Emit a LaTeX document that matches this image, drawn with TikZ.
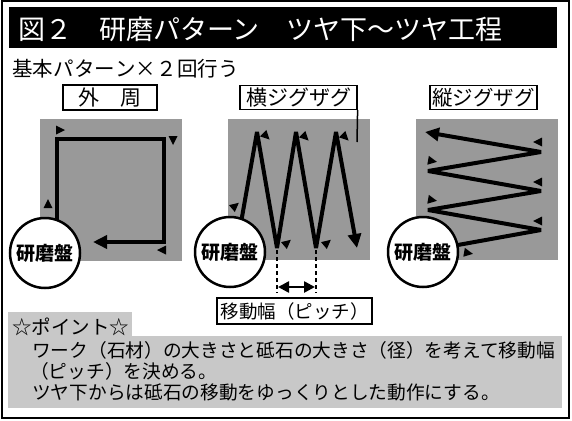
\documentclass[tikz,border=0pt]{standalone}
\usepackage{fontspec}
\setmainfont{Noto Sans CJK JP}
\usetikzlibrary{arrows.meta}
\definecolor{sqgray}{RGB}{153,153,153}
\definecolor{ptgray}{RGB}{200,200,200}
\newcommand\mymark[3]{\fill[shift={(#1,#2)},rotate=#3] (5pt,0pt) -- (-4pt,4.5pt) -- (-4pt,-4.5pt) -- cycle;}
\newcommand\cjcell[1]{\makebox[20.6pt][c]{#1}}
\tikzset{
  pathline/.style={line width=4pt, line join=bevel},
  bigtip/.style={-{Triangle[length=14pt,width=13pt]}},
  labelbox/.style={draw, line width=1.2pt, fill=white, inner sep=0pt},
  wheel/.style={circle, draw, line width=2.5pt, fill=white, minimum size=70pt, inner sep=0pt,
    font=\fontsize{19}{19}\selectfont\bfseries},
  pitchdash/.style={line width=2pt, dash pattern=on 4pt off 3pt},
  linetext/.style={anchor=base west, inner sep=0pt, font=\fontsize{18.7}{18.7}\selectfont},
}
\begin{document}
\begin{tikzpicture}[x=1pt,y=-1pt]
\useasboundingbox (0,0) rectangle (572,420);
% frame and title
\draw[line width=2pt] (1.5,1.5) rectangle (568.5,417.5);
\fill[black] (9,7) rectangle (557,48);
\node[anchor=base west, inner sep=0pt, text=white, font=\fontsize{27}{27}\selectfont] (title) at (18,40)
  {図２　研磨パターン　ツヤ下～ツヤ工程};
\node[anchor=base west, inner sep=0pt, font=\fontsize{20.5}{20.5}\selectfont] (sub) at (12,76)
  {\cjcell{基}\cjcell{本}\cjcell{パ}\cjcell{タ}\cjcell{ー}\cjcell{ン}\cjcell{×}\cjcell{２}\cjcell{回}\cjcell{行}\cjcell{う}};
% gray squares
\fill[sqgray] (40,119) rectangle (182,261);
\fill[sqgray] (228,119) rectangle (370,260);
\fill[sqgray] (416,119) rectangle (558,260);
% label boxes
\node[labelbox, minimum width=94pt, minimum height=25pt, font=\fontsize{21}{21}\selectfont] (gaishu) at (110,97.5) {外　周};
\node[labelbox, minimum width=117pt, minimum height=24pt, font=\fontsize{21}{21}\selectfont] (yoko) at (298.5,97.5) {横ジグザグ};
\coordinate (yokotail) at (357,142);
\draw[line width=1.5pt] (yoko.south east) -- (yokotail);
\node[labelbox, minimum width=107pt, minimum height=24pt, font=\fontsize{20.5}{20.5}\selectfont] (tate) at (483.5,97.5) {縦ジグザグ};
% outer perimeter path
\draw[pathline, line join=miter, bigtip] (57,225) -- (57,139) -- (164,139) -- (164,242) -- (93,242);
\mymark{60}{130}{0}
\mymark{173}{140}{-90}
\mymark{162}{250}{180}
\mymark{48}{204}{90}
% horizontal zigzag
\draw[pathline, bigtip] (240.6,225) -- (257,132) -- (277,248) -- (296,132) -- (316,248) -- (336,132) -- (357,248);
\mymark{266}{136}{-45}
\mymark{305}{137}{-45}
\mymark{345}{137}{-45}
\mymark{235}{206}{40}
\mymark{287}{243}{40}
\mymark{327}{243}{40}
% vertical zigzag
\draw[pathline, bigtip] (449,246.6) -- (541,230) -- (428,210) -- (541,191) -- (428,171) -- (541,152) -- (425,132);
\mymark{538}{142}{180}
\mymark{432}{161}{-10}
\mymark{538}{182}{180}
\mymark{432}{200}{-10}
\mymark{538}{221}{180}
\mymark{468}{253}{-10}
% wheels
\node[wheel] (w1) at (45,253) {研磨盤};
\node[wheel] (w2) at (230,252) {研磨盤};
\node[wheel] (w3) at (423,252) {研磨盤};
% pitch
\coordinate (d1top) at (277,250);
\coordinate (d1bot) at (277,293);
\coordinate (d2top) at (316,250);
\coordinate (d2bot) at (316,293);
\draw[pitchdash] (d1top) -- (d1bot);
\draw[pitchdash] (d2top) -- (d2bot);
\coordinate (pa) at (278,287);
\coordinate (pb) at (315,287);
\draw[line width=2.5pt, {Triangle[length=11pt,width=11pt]}-{Triangle[length=11pt,width=11pt]}] (pa) -- (pb);
\node[labelbox, minimum width=155pt, minimum height=26pt, font=\fontsize{18.5}{18.5}\selectfont] (pitch) at (294.5,311) {移動幅（ピッチ）};
% point area
\fill[ptgray] (8,312) rectangle (132,337);
\fill[ptgray] (8,336) rectangle (562,408);
\node[anchor=base west, inner sep=0pt, font=\fontsize{19.5}{19.5}\selectfont] (pt) at (12,334) {☆ポイント☆};
\node[linetext] (l1) at (32,357) {ワーク（石材）の大きさと砥石の大きさ（径）を考えて移動幅};
\node[linetext] (l2) at (30,378) {（ピッチ）を決める。};
\node[linetext] (l3) at (32,399) {ツヤ下からは砥石の移動をゆっくりとした動作にする。};
\end{tikzpicture}
\end{document}
